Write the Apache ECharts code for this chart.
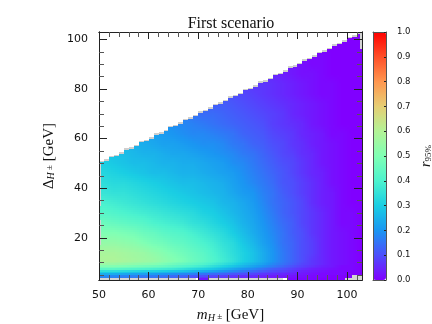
<!DOCTYPE html>
<html>
<head>
<meta charset="utf-8">
<title>First scenario</title>
<script src="https://cdn.jsdelivr.net/npm/echarts@6/dist/echarts.min.js"></script>
<style>
html, body { margin: 0; padding: 0; background: #fff; }
#chart { width: 432px; height: 324px; }
</style>
</head>
<body>
<div id="chart"></div>
<script>
var _ = null;

// left edge of each column of cells, GeV (last one stops at 103)
var columnEdges = [50,52,54,56,58,60,62,64,66,68,70,72,74,76,78,80,82,84,86,88,90,92,94,96,98,100,102,103];
// lower edge of each row of cells, GeV
var rowEdges = [3,4,5,6,7,8,9,10,12,16,20,24,28,32,36,40,44,48,52,56,60,64,68,72,76,80,84,88,92,96,100,104];

// r95%, one list per column, from the bottom row upwards
var rValues = [
    [_,.17,.24,.33,.43,.50,.55,.59,.58,.54,.50,.46,.42,.39,.36,.34,.32,.30,.29],
    [_,.17,.24,.33,.43,.50,.55,.59,.58,.54,.50,.45,.41,.38,.35,.33,.31,.29,.28],
    [_,.16,.23,.32,.42,.49,.54,.58,.57,.53,.49,.44,.40,.37,.35,.33,.30,.28,.27,.26],
    [_,.16,.22,.31,.41,.48,.53,.57,.56,.52,.48,.43,.39,.36,.34,.32,.29,.27,.26,.25],
    [_,.15,.22,.30,.40,.47,.52,.56,.55,.50,.46,.42,.38,.35,.33,.31,.28,.27,.25,.24,.23],
    [_,.15,.21,.30,.39,.46,.51,.55,.53,.48,.45,.40,.37,.34,.32,.30,.27,.26,.25,.23,.22],
    [_,.14,.20,.29,.38,.45,.49,.53,.51,.47,.43,.39,.36,.33,.31,.29,.27,.25,.24,.22,.21,.20],
    [_,.13,.19,.28,.37,.43,.47,.51,.49,.45,.42,.38,.35,.32,.30,.28,.26,.25,.23,.22,.20,.19],
    [_,.12,.18,.27,.35,.41,.45,.49,.47,.44,.41,.37,.34,.31,.29,.27,.25,.24,.23,.21,.19,.18,.17],
    [_,.10,.17,.25,.33,.39,.43,.46,.45,.42,.39,.35,.33,.30,.28,.27,.25,.24,.22,.20,.18,.17,.15],
    [.03,.09,.15,.23,.31,.37,.41,.44,.43,.40,.37,.34,.31,.29,.27,.26,.24,.23,.21,.19,.18,.16,.14,.13],
    [_,.08,.14,.21,.29,.34,.38,.41,.40,.38,.35,.32,.30,.28,.26,.25,.23,.22,.20,.19,.17,.15,.14,.12],
    [_,.07,.13,.19,.26,.31,.35,.38,.37,.35,.33,.30,.28,.26,.25,.24,.22,.21,.19,.18,.16,.14,.13,.12,.11],
    [_,.06,.11,.17,.23,.28,.32,.35,.34,.33,.30,.28,.26,.25,.23,.22,.21,.19,.18,.16,.15,.13,.12,.11,.10],
    [_,.05,.10,.15,.20,.25,.28,.31,.31,.29,.27,.25,.24,.23,.21,.20,.19,.18,.16,.15,.13,.12,.11,.10,.09,.08],
    [_,.05,.09,.13,.18,.22,.25,.28,.28,.26,.24,.23,.22,.21,.20,.18,.17,.16,.15,.13,.12,.11,.10,.09,.08,.07],
    [_,.04,.07,.11,.15,.19,.22,.24,.24,.22,.21,.20,.19,.18,.17,.16,.15,.14,.13,.12,.11,.10,.09,.08,.07,.07,.06],
    [_,.03,.06,.09,.12,.16,.18,.20,.20,.19,.18,.17,.16,.15,.15,.14,.13,.12,.11,.10,.09,.08,.08,.07,.06,.06,.05],
    [_,.03,.05,.08,.10,.13,.15,.16,.16,.15,.15,.14,.13,.13,.12,.11,.11,.10,.09,.09,.08,.07,.07,.06,.05,.05,.04,.04],
    [.01,.02,.04,.06,.08,.10,.12,.13,.13,.13,.12,.12,.11,.11,.10,.10,.09,.09,.08,.07,.07,.06,.05,.05,.04,.04,.03,.03],
    [.01,.02,.03,.04,.06,.08,.09,.10,.10,.10,.10,.09,.09,.09,.08,.08,.07,.07,.06,.06,.05,.05,.04,.04,.03,.03,.02,.02,.02],
    [.01,.01,.02,.03,.04,.06,.07,.07,.08,.08,.07,.07,.07,.06,.06,.06,.05,.05,.05,.04,.04,.03,.03,.03,.02,.02,.02,.01,.01],
    [0,.01,.01,.02,.03,.04,.05,.05,.05,.05,.05,.05,.05,.04,.04,.04,.04,.03,.03,.03,.03,.02,.02,.02,.01,.01,.01,.01,.01,0],
    [0,0,.01,.01,.02,.03,.03,.03,.03,.03,.03,.03,.03,.03,.03,.02,.02,.02,.02,.02,.01,.01,.01,.01,.01,.01,0,0,0,0],
    [0,0,.01,.01,.01,.01,.02,.02,.02,.02,.02,.01,.01,.01,.01,.01,.01,.01,.01,.01,.01,0,0,0,0,0,0,0,0,0],
    [_,0,0,0,.01,.01,.01,.01,.01,.01,.01,.01,.01,0,0,0,0,0,0,0,0,0,0,0,0,0,0,0,0,0,0],
    [_,_,0,0,0,0,0,0,0,0,0,0,0,0,0,0,0,0,0,0,0,0,0,0,0,0,0,0,0,0,0]
];

// top of the scanned region for each 1 GeV step of mH, starting at 50
var edgeTop = [50.5,51,52.5,53,54,55.5,56,57,58.5,59,60,61.5,62,63,64.5,65,66,67.5,68,69,70.5,71,72,73.5,74,75,76.5,77,78,
    79.5,80,81,82.5,83,84,85.5,86,87,88.5,89,90,91.5,92,93,94.5,95,96,97.5,98,99,100.5,101,102];

// greyed out cells where the scan has no value: mH from, mH to, delta from, delta to
var missingCells = [
    [50,69.5,3,4], [72,87,3,4], [99.5,101,3,4], [101,103,3,5],
    [50,50.5,33,50], [50,50.5,17,27], [102.5,103,96,102]
];

var xTicks = [50,60,70,80,90,100];
var xMinorTicks = [52,54,56,58,62,64,66,68,72,74,76,78,82,84,86,88,92,94,96,98,102];
var yTicks = [20,40,60,80,100];
var yMinorTicks = [5,10,15,25,30,35,45,50,55,65,70,75,85,90,95];
var colorbarTicks = [0,.1,.2,.3,.4,.5,.6,.7,.8,.9,1];
var rainbow = ['#8000ff','#4d4ffc','#1a96f2','#1acee3','#4df3ce','#80ffb4','#b3f396','#e6ce74','#ff964f','#ff4f28','#ff0000'];

var cells = [];
rValues.forEach(function (column, i) {
    column.forEach(function (r, j) {
        if (r !== null) {
            cells.push([columnEdges[i], columnEdges[i + 1], rowEdges[j], rowEdges[j + 1], r, i, j]);
        }
    });
});
var mask = edgeTop.map(function (top, i) { return [50 + i, 51 + i, top, 104]; });
var edgeCap = edgeTop.map(function (top, i) { return [50 + i, 51 + i, top, top + 0.6]; });

function centre(edges, k) { return (edges[k] + edges[k + 1]) / 2; }

function nodeValue(i, j) {
    var column = rValues[i];
    if (!column || column[j] === undefined) return null;
    return column[j];
}

// gouraud style shading between the cell centres, same look as the original plot
function shadedValue(x, y, i, j) {
    var i2 = x < centre(columnEdges, i) ? i - 1 : i + 1;
    var j2 = y < centre(rowEdges, j) ? j - 1 : j + 1;
    var tx = i2 < 0 || i2 >= rValues.length ? 0 : Math.abs(x - centre(columnEdges, i)) / Math.abs(centre(columnEdges, i2) - centre(columnEdges, i));
    var ty = j2 < 0 || j2 >= rowEdges.length - 1 ? 0 : Math.abs(y - centre(rowEdges, j)) / Math.abs(centre(rowEdges, j2) - centre(rowEdges, j));
    var corners = [[i, j, (1 - tx) * (1 - ty)], [i2, j, tx * (1 - ty)], [i, j2, (1 - tx) * ty], [i2, j2, tx * ty]];
    var sum = 0, weight = 0;
    corners.forEach(function (c) {
        var v = nodeValue(c[0], c[1]);
        if (v !== null && c[2] > 0) {
            sum += v * c[2];
            weight += c[2];
        }
    });
    return sum / weight;
}

function renderShadedCell(params, api) {
    var i = api.value(5), j = api.value(6);
    var a = api.coord([api.value(0), api.value(2)]);
    var b = api.coord([api.value(1), api.value(3)]);
    var left = Math.round(a[0]), right = Math.round(b[0]);
    var bottom = Math.round(a[1]), top = Math.round(b[1]);
    var x0 = api.value(0), x1 = api.value(1), y0 = api.value(2), y1 = api.value(3);
    var children = [];
    for (var px = left; px < right; px += 2) {
        for (var py = top; py < bottom; py += 2) {
            var w = Math.min(2, right - px), h = Math.min(2, bottom - py);
            var x = x0 + (px + w / 2 - left) / (right - left) * (x1 - x0);
            var y = y0 + (bottom - py - h / 2) / (bottom - top) * (y1 - y0);
            children.push({
                type: 'rect',
                shape: { x: px, y: py, width: w, height: h },
                style: { fill: echarts.color.lerp(shadedValue(x, y, i, j), rainbow) }
            });
        }
    }
    return { type: 'group', children: children };
}

function drawFlat(color) {
    return function (params, api) {
        var a = api.coord([api.value(0), api.value(2)]);
        var b = api.coord([api.value(1), api.value(3)]);
        var left = Math.round(a[0]), right = Math.round(b[0]);
        var bottom = Math.round(a[1]), top = Math.round(b[1]);
        return {
            type: 'rect',
            shape: { x: left, y: top, width: right - left, height: bottom - top },
            style: { fill: color }
        };
    };
}
function cellSeries(data, renderItem, z) {
    return {
        type: 'custom',
        coordinateSystem: 'cartesian2d',
        renderItem: renderItem,
        data: data,
        clip: true,
        silent: true,
        animation: false,
        z: z,
        encode: { x: [0, 1], y: [2, 3] }
    };
}

function tickAxis(opts) {
    var lineColor = opts.minor ? '#555' : '#222';
    return {
        type: 'value',
        gridIndex: opts.grid,
        position: opts.position,
        min: opts.min,
        max: opts.max,
        z: 10,
        splitLine: { show: false },
        axisLine: { show: true, onZero: false, lineStyle: { color: opts.lineColor || '#222', width: 1 } },
        axisTick: {
            show: opts.ticks.length > 0,
            inside: true,
            length: opts.len,
            customValues: opts.ticks,
            lineStyle: { color: lineColor, width: 1 }
        },
        axisLabel: opts.labels ? {
            show: true,
            customValues: opts.ticks,
            margin: opts.margin,
            fontFamily: 'DejaVu Sans',
            fontSize: opts.fontSize,
            color: '#111',
            formatter: opts.formatter,
            showMinLabel: true,
            showMaxLabel: true
        } : { show: false },
        name: opts.name,
        nameLocation: 'middle',
        nameGap: opts.nameGap,
        nameRotate: opts.nameRotate,
        nameTextStyle: opts.nameStyle
    };
}

var serif = 'Liberation Serif';
var nameStyle = {
    fontFamily: serif, fontSize: 15, color: '#111',
    rich: {
        m: { fontFamily: serif, fontStyle: 'italic', fontSize: 15, color: '#111' },
        sub: { fontFamily: serif, fontStyle: 'italic', fontSize: 10, color: '#111', padding: [5, 0, 0, 0] },
        pm: { fontFamily: serif, fontSize: 9, color: '#111', padding: [3, 0, 0, 0] },
        u: { fontFamily: serif, fontSize: 15, color: '#111' }
    }
};
var rNameStyle = {
    fontFamily: serif, color: '#111',
    rich: {
        m: { fontFamily: serif, fontStyle: 'italic', fontSize: 14, color: '#111' },
        sub: { fontFamily: serif, fontSize: 9, color: '#111', padding: [5, 0, 0, 0] }
    }
};

var chart = echarts.init(document.getElementById('chart'), null, { renderer: 'canvas' });
chart.setOption({
    animation: false,
    backgroundColor: '#fff',
    title: {
        text: 'First scenario',
        left: 226,
        top: 11,
        textAlign: 'center',
        textStyle: { fontFamily: serif, fontSize: 16, fontWeight: 'normal', color: '#111' }
    },
    grid: [
        { left: 99, top: 32, width: 263, height: 248, outerBoundsMode: 'none' },
        { left: 373, top: 32, width: 13, height: 248, outerBoundsMode: 'none' }
    ],
    visualMap: {
        type: 'continuous',
        seriesIndex: 0,
        dimension: 4,
        min: 0,
        max: 1,
        left: 373,
        top: 32,
        padding: 0,
        itemWidth: 13,
        itemHeight: 248,
        showLabel: false,
        calculable: false,
        hoverLink: false,
        inRange: { color: rainbow }
    },
    xAxis: [
        tickAxis({ grid: 0, position: 'bottom', min: 50, max: 103, ticks: xTicks, len: 8, labels: true, margin: 10, fontSize: 11,
            name: '{m|m}{sub|H}{pm| ±} {u|[GeV]}', nameGap: 28, nameStyle: nameStyle }),
        tickAxis({ grid: 0, position: 'bottom', min: 50, max: 103, ticks: xMinorTicks, len: 5, minor: true }),
        tickAxis({ grid: 0, position: 'top', min: 50, max: 103, ticks: xTicks, len: 7 }),
        tickAxis({ grid: 0, position: 'top', min: 50, max: 103, ticks: xMinorTicks, len: 5, minor: true }),
        tickAxis({ grid: 1, position: 'bottom', min: 0, max: 1, ticks: [], len: 0, lineColor: '#555' }),
        tickAxis({ grid: 1, position: 'top', min: 0, max: 1, ticks: [], len: 0, lineColor: '#555' })
    ],
    yAxis: [
        tickAxis({ grid: 0, position: 'left', min: 3, max: 103, ticks: yTicks, len: 8, labels: true, margin: 11, fontSize: 11,
            name: '{u|Δ}{sub|H}{pm| ±} {u|[GeV]}', nameGap: 31, nameRotate: 90, nameStyle: nameStyle }),
        tickAxis({ grid: 0, position: 'left', min: 3, max: 103, ticks: yMinorTicks, len: 5, minor: true }),
        tickAxis({ grid: 0, position: 'right', min: 3, max: 103, ticks: yTicks, len: 8 }),
        tickAxis({ grid: 0, position: 'right', min: 3, max: 103, ticks: yMinorTicks, len: 5, minor: true }),
        tickAxis({ grid: 1, position: 'left', min: 0, max: 1, ticks: [], len: 0, lineColor: '#555' }),
        tickAxis({ grid: 1, position: 'right', min: 0, max: 1, ticks: colorbarTicks, len: 2, labels: true, margin: 11, fontSize: 8.5,
            lineColor: '#555', formatter: function (v) { return v.toFixed(1); },
            name: '{m|r}{sub|95%}', nameGap: 33, nameRotate: 90, nameStyle: rNameStyle })
    ],
    series: [
        cellSeries(cells, renderShadedCell, 2),
        cellSeries(mask, drawFlat('#fff'), 3),
        cellSeries(edgeCap, drawFlat('#cfcfcf'), 4),
        cellSeries(missingCells, drawFlat('#d4d4d4'), 4)
    ]
});
</script>
</body>
</html>
